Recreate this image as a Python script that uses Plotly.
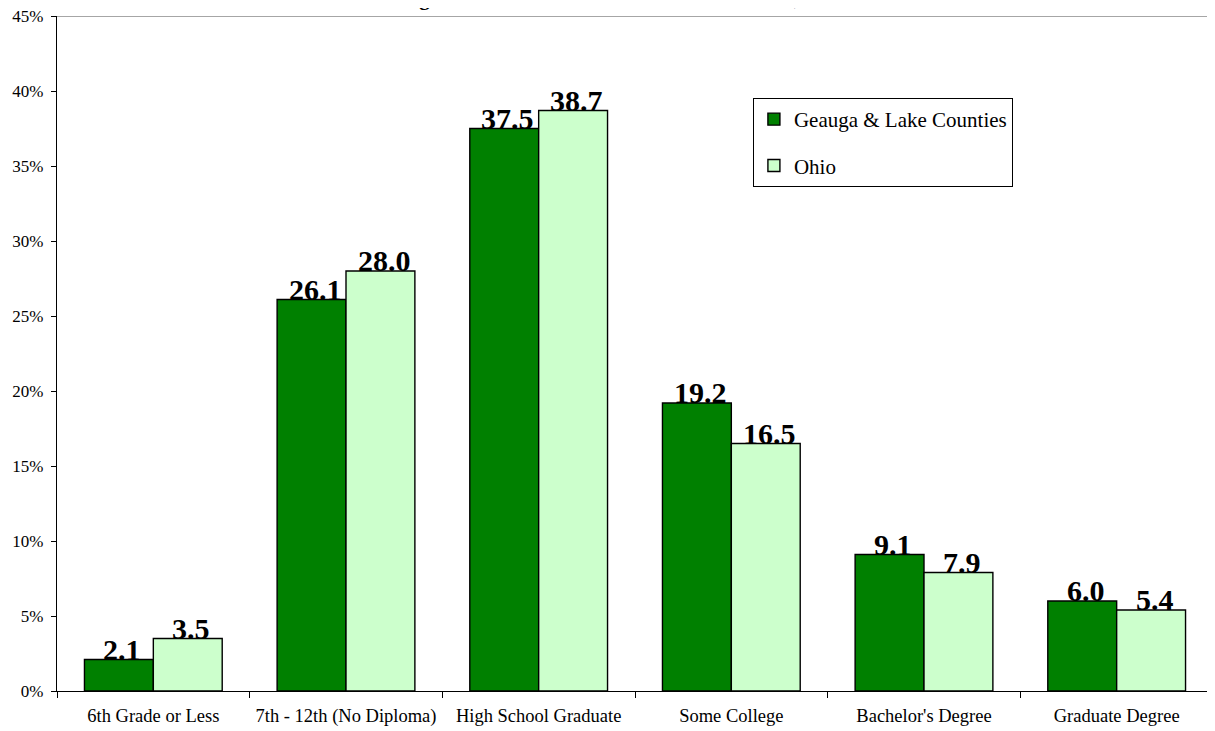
import plotly.graph_objects as go

categories = ["6th Grade or Less", "7th - 12th (No Diploma)", "High School Graduate",
              "Some College", "Bachelor's Degree", "Graduate Degree"]
geauga_lake = [2.1, 26.1, 37.5, 19.2, 9.1, 6.0]
ohio = [3.5, 28.0, 38.7, 16.5, 7.9, 5.4]
series_names = ["Geauga & Lake Counties", "Ohio"]
y_ticks = [0, 5, 10, 15, 20, 25, 30, 35, 40, 45]
title_text = "Adults in Geauga & Lake Counties and the State of Ohio, 1990 Census"

FONT = "Liberation Serif"

fig = go.Figure()
for name, vals, color, grp in [(series_names[0], geauga_lake, "#008000", "a"),
                               (series_names[1], ohio, "#CCFFCC", "b")]:
    fig.add_trace(go.Bar(
        x=categories, y=vals, name=name, legendgroup=grp,
        marker=dict(color=color, line=dict(color="black", width=1.4)),
    ))

# data labels sitting on the bar tops
for vals, xs in [(geauga_lake, -31), (ohio, 38)]:
    for c, v in zip(categories, vals):
        fig.add_annotation(x=c, y=v, xref="x", yref="y", text=f"{v:.1f}",
                           showarrow=False, xanchor="center", yanchor="bottom",
                           xshift=xs, yshift=-8,
                           font=dict(family=FONT, size=30, color="black", weight="bold"))

fig.update_layout(
    width=1207, height=722,
    margin=dict(l=49, r=2, t=8, b=39),
    paper_bgcolor="white", plot_bgcolor="white",
    barmode="group", bargap=0.285, bargroupgap=0,
    font=dict(family=FONT, size=18, color="black"),
    showlegend=True,
    legend=dict(x=0.602, y=0.8785, xanchor="left", yanchor="top",
                bordercolor="black", borderwidth=1, bgcolor="white",
                font=dict(family=FONT, size=21, color="black"),
                tracegroupgap=16, traceorder="grouped"),
)
fig.update_xaxes(showline=True, linecolor="black", linewidth=1.4,
                 ticks="outside", tickson="boundaries", ticklen=6, tickcolor="black",
                 showgrid=False, tickfont=dict(family=FONT, size=18.5),
                 ticklabelstandoff=8, automargin=False)
fig.update_yaxes(range=[0, 45], tickmode="array", tickvals=y_ticks,
                 ticktext=[f"{t}%" for t in y_ticks], showgrid=False,
                 showline=True, linecolor="black", linewidth=1.4,
                 ticks="outside", ticklen=5, tickcolor="black", zeroline=False,
                 tickfont=dict(family=FONT, size=17), ticklabelstandoff=4,
                 ticklabeloverflow="allow", automargin=False)
fig.add_shape(type="line", xref="paper", yref="y", x0=0, x1=1, y0=45, y1=45,
              line=dict(color="#888888", width=1.5))
fig.add_annotation(text=title_text, xref="paper", yref="paper",
                   x=0.47, y=1, yshift=4, xanchor="center", yanchor="bottom",
                   showarrow=False, font=dict(family=FONT, size=21, color="black", weight="bold"))

fig.write_html("out.html")
